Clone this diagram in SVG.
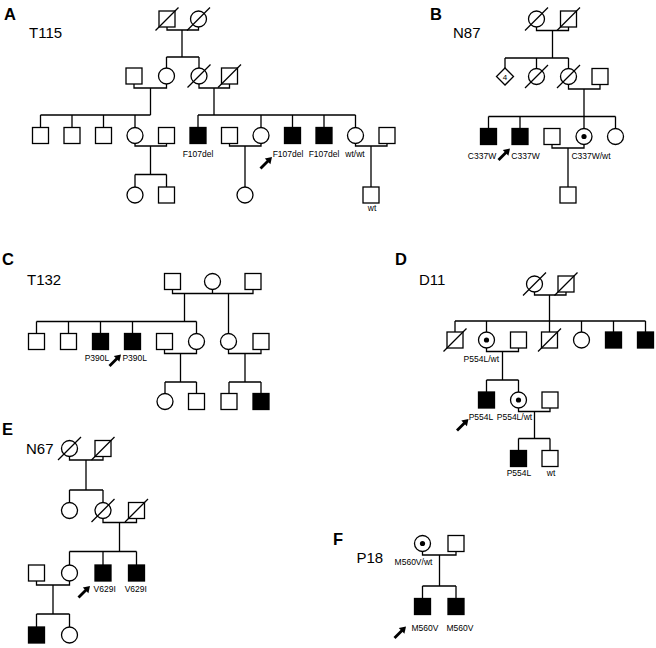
<svg xmlns="http://www.w3.org/2000/svg" width="656" height="648" viewBox="0 0 656 648">
<style>
.s{fill:#fff;stroke:#000;stroke-width:1.3}
.f{fill:#000}
.ln{fill:none;stroke:#000;stroke-width:1.3}
.dot{fill:#000}
text{font-family:"Liberation Sans",Arial,sans-serif;fill:#000}
.lbl{font-size:8.5px;text-anchor:middle}
.ttl{font-size:15px}
.pn{font-size:16.5px;font-weight:bold}
</style>
<defs>
<g id="arr"><line x1="-3" y1="3" x2="-11.5" y2="11.5" stroke="#000" stroke-width="2.8"/><polygon points="0,0 -1.6,7.2 -7.2,1.6" fill="#000"/></g>
</defs>
<rect width="656" height="648" fill="#fff"/>

<g id="titles">
<text class="pn" x="4" y="19.5">A</text><text class="ttl" x="29" y="38">T115</text>
<text class="pn" x="430" y="19.5">B</text><text class="ttl" x="453" y="38">N87</text>
<text class="pn" x="2" y="265">C</text><text class="ttl" x="27" y="285">T132</text>
<text class="pn" x="395" y="265">D</text><text class="ttl" x="419" y="285">D11</text>
<text class="pn" x="2" y="435">E</text><text class="ttl" x="26" y="454">N67</text>
<text class="pn" x="333" y="545">F</text><text class="ttl" x="356.5" y="563">P18</text>
</g>

<g id="connectors" class="ln">
<!-- A -->
<path d="M167,27V30H198.5V27M182,30V57M166.5,57H199M166.5,57V68M199,57V68"/>
<path d="M134,84V88H166.5V84M150.5,88V115M40.5,115H150.5M40.5,115V127.5M72,115V127.5M103.5,115V127.5M135,115V127.5"/>
<path d="M199,84V88H229.5V84M214,88V115M198,115H355.5M198,115V127.5M261,115V127.5M292.5,115V127.5M324,115V127.5M355.5,115V127.5"/>
<path d="M135,143.5V146H166.5V143.5M150.5,146V174.5M135,174.5H166.5M135,174.5V187M166.5,174.5V187"/>
<path d="M229.5,143.5V146H261V143.5M245,146V187"/>
<path d="M355.5,143.5V146H387V143.5M371,146V187"/>
<!-- B -->
<path d="M536.5,27V30.5H568.5V27M552.5,30.5V58M505,58H568.5M505,58V68M536.5,58V68.5M568.5,58V68.5"/>
<path d="M568.5,84.5V89H600V84.5M584,89V128.5M488.5,116.5H615.5M488.5,116.5V128.5M520,116.5V128.5M615.5,116.5V128.5"/>
<path d="M552,144.5V148H584V144.5M568,148V187"/>
<!-- C -->
<path d="M172.5,289.5V293.5H253V289.5M212.5,289.5V293.5M184.5,293.5V321.5M228.5,293.5V333.5"/>
<path d="M36.5,321.5H196.5M36.5,321.5V333.5M68.5,321.5V333.5M100.5,321.5V333.5M132.5,321.5V333.5M196.5,321.5V333.5"/>
<path d="M164.5,349.5V353.5H196.5V349.5M180.5,353.5V382M165,382H196.5M165,382V393.5M196.5,382V393.5"/>
<path d="M228.5,349.5V353.5H261V349.5M245,353.5V382M229,382H261M229,382V393.5M261,382V393.5"/>
<!-- D -->
<path d="M534.5,292V295H566V292M549.5,295V332M455,321H645.5M455,321V332M486.5,321V332M581.5,321V332M613.5,321V332M645.5,321V332"/>
<path d="M486.5,348V351.5H518.5V348M502.5,351.5V380M486.5,380H518.5M486.5,380V392M518.5,380V392"/>
<path d="M518.5,408V411.5H550V408M534.5,411.5V438.5M518.5,438.5H550M518.5,438.5V450.5M550,438.5V450.5"/>
<!-- E -->
<path d="M69.5,456.5V460H103V456.5M86,460V490M69.5,490H103M69.5,490V502.5M103,490V502.5"/>
<path d="M103,518.5V522.5H136.5V518.5M119.5,522.5V551.5M69.5,551.5H136.5M69.5,551.5V565M103,551.5V565M136.5,551.5V565"/>
<path d="M36.5,581V585H69.5V581M53,585V614M36.5,614H69.5M36.5,614V627M69.5,614V627"/>
<!-- F -->
<path d="M422.5,551.5V555H456V551.5M439.5,555V586M422.5,586H456M422.5,586V598.5M456,586V598.5"/>
</g>

<!-- Panel A nodes -->
<g id="A1"><rect class="s" x="159" y="11" width="16" height="16"/><line class="ln" x1="155.5" y1="30.5" x2="178.5" y2="7.5"/></g>
<g id="A2"><circle class="s" cx="198.5" cy="19" r="8"/><line class="ln" x1="187" y1="30.5" x2="210" y2="7.5"/></g>
<g id="A3"><rect class="s" x="126" y="68" width="16" height="16"/></g>
<g id="A4"><circle class="s" cx="166.5" cy="76" r="8"/></g>
<g id="A5"><circle class="s" cx="199" cy="76" r="8"/><line class="ln" x1="187.5" y1="87.5" x2="210.5" y2="64.5"/></g>
<g id="A6"><rect class="s" x="221.5" y="68" width="16" height="16"/><line class="ln" x1="218" y1="87.5" x2="241" y2="64.5"/></g>
<g id="A7"><rect class="s" x="32.5" y="127.5" width="16" height="16"/></g>
<g id="A8"><rect class="s" x="64" y="127.5" width="16" height="16"/></g>
<g id="A9"><rect class="s" x="95.5" y="127.5" width="16" height="16"/></g>
<g id="A10"><circle class="s" cx="135" cy="135.5" r="8"/></g>
<g id="A11"><rect class="s" x="158.5" y="127.5" width="16" height="16"/></g>
<g id="A12"><rect class="s f" x="190" y="127.5" width="16" height="16"/><text class="lbl" x="198" y="157">F107del</text></g>
<g id="A13"><rect class="s" x="221.5" y="127.5" width="16" height="16"/></g>
<g id="A14"><circle class="s" cx="261" cy="135.5" r="8"/></g>
<g id="A15"><rect class="s f" x="284.5" y="127.5" width="16" height="16"/><text class="lbl" x="288" y="157">F107del</text><use href="#arr" transform="translate(272,157)"/></g>
<g id="A16"><rect class="s f" x="316" y="127.5" width="16" height="16"/><text class="lbl" x="324" y="157">F107del</text></g>
<g id="A17"><circle class="s" cx="355.5" cy="135.5" r="8"/><text class="lbl" x="355" y="157">wt/wt</text></g>
<g id="A18"><rect class="s" x="379" y="127.5" width="16" height="16"/></g>
<g id="A19"><circle class="s" cx="135" cy="195" r="8"/></g>
<g id="A20"><rect class="s" x="158.5" y="187" width="16" height="16"/></g>
<g id="A21"><circle class="s" cx="245" cy="195" r="8"/></g>
<g id="A22"><rect class="s" x="363" y="187" width="16" height="16"/><text class="lbl" x="372" y="211">wt</text></g>

<!-- Panel B nodes -->
<g id="B1"><circle class="s" cx="536.5" cy="19" r="8"/><line class="ln" x1="525" y1="30.5" x2="548" y2="7.5"/></g>
<g id="B2"><rect class="s" x="560.5" y="11" width="16" height="16"/><line class="ln" x1="557" y1="30.5" x2="580" y2="7.5"/></g>
<g id="B3"><polygon class="s" points="505,68 513.5,76.5 505,85 496.5,76.5"/><text x="505" y="79.5" style="font-size:8px;text-anchor:middle">4</text></g>
<g id="B4"><circle class="s" cx="536.5" cy="76.5" r="8"/><line class="ln" x1="525" y1="88" x2="548" y2="65"/></g>
<g id="B5"><circle class="s" cx="568.5" cy="76.5" r="8"/><line class="ln" x1="557" y1="88" x2="580" y2="65"/></g>
<g id="B6"><rect class="s" x="592" y="68.5" width="16" height="16"/></g>
<g id="B7"><rect class="s f" x="480.5" y="128.5" width="16" height="16"/><text class="lbl" x="482" y="159">C337W</text></g>
<g id="B8"><rect class="s f" x="512" y="128.5" width="16" height="16"/><text class="lbl" x="525.5" y="159">C337W</text><use href="#arr" transform="translate(510,148.5)"/></g>
<g id="B9"><rect class="s" x="544" y="128.5" width="16" height="16"/></g>
<g id="B10"><circle class="s" cx="584" cy="136.5" r="8"/><circle class="dot" cx="584" cy="136.5" r="2.6"/><text class="lbl" x="591" y="159">C337W/wt</text></g>
<g id="B11"><circle class="s" cx="615.5" cy="136.5" r="8"/></g>
<g id="B12"><rect class="s" x="560" y="187" width="16" height="16"/></g>

<!-- Panel C nodes -->
<g id="C1"><rect class="s" x="164.5" y="273.5" width="16" height="16"/></g>
<g id="C2"><circle class="s" cx="212.5" cy="281.5" r="8"/></g>
<g id="C3"><rect class="s" x="245" y="273.5" width="16" height="16"/></g>
<g id="C4"><rect class="s" x="28.5" y="333.5" width="16" height="16"/></g>
<g id="C5"><rect class="s" x="60.5" y="333.5" width="16" height="16"/></g>
<g id="C6"><rect class="s f" x="92.5" y="333.5" width="16" height="16"/><text class="lbl" x="97" y="361">P390L</text></g>
<g id="C7"><rect class="s f" x="124.5" y="333.5" width="16" height="16"/><text class="lbl" x="134.7" y="361">P390L</text><use href="#arr" transform="translate(121,354.5)"/></g>
<g id="C8"><rect class="s" x="156.5" y="333.5" width="16" height="16"/></g>
<g id="C9"><circle class="s" cx="196.5" cy="341.5" r="8"/></g>
<g id="C10"><circle class="s" cx="228.5" cy="341.5" r="8"/></g>
<g id="C11"><rect class="s" x="253" y="333.5" width="16" height="16"/></g>
<g id="C12"><circle class="s" cx="165" cy="401.5" r="8"/></g>
<g id="C13"><rect class="s" x="188.5" y="393.5" width="16" height="16"/></g>
<g id="C14"><rect class="s" x="221" y="393.5" width="16" height="16"/></g>
<g id="C15"><rect class="s f" x="253" y="393.5" width="16" height="16"/></g>

<!-- Panel D nodes -->
<g id="D1"><circle class="s" cx="534.5" cy="284" r="8"/><line class="ln" x1="523" y1="295.5" x2="546" y2="272.5"/></g>
<g id="D2"><rect class="s" x="558" y="276" width="16" height="16"/><line class="ln" x1="554.5" y1="295.5" x2="577.5" y2="272.5"/></g>
<g id="D3"><rect class="s" x="447" y="332" width="16" height="16"/><line class="ln" x1="443.5" y1="351.5" x2="466.5" y2="328.5"/></g>
<g id="D4"><circle class="s" cx="486.5" cy="340" r="8"/><circle class="dot" cx="486.5" cy="340" r="2.6"/><text class="lbl" x="481.3" y="361.7">P554L/wt</text></g>
<g id="D5"><rect class="s" x="510.5" y="332" width="16" height="16"/></g>
<g id="D6"><rect class="s" x="541.5" y="332" width="16" height="16"/><line class="ln" x1="538" y1="351.5" x2="561" y2="328.5"/></g>
<g id="D7"><circle class="s" cx="581.5" cy="340" r="8"/></g>
<g id="D8"><rect class="s f" x="605.5" y="332" width="16" height="16"/></g>
<g id="D9"><rect class="s f" x="637.5" y="332" width="16" height="16"/></g>
<g id="D10"><rect class="s f" x="478.5" y="392" width="16" height="16"/><text class="lbl" x="481" y="420">P554L</text><use href="#arr" transform="translate(468.5,419)"/></g>
<g id="D11"><circle class="s" cx="518.5" cy="400" r="8"/><circle class="dot" cx="518.5" cy="400" r="2.6"/><text class="lbl" x="514.5" y="420">P554L/wt</text></g>
<g id="D12"><rect class="s" x="542" y="392" width="16" height="16"/></g>
<g id="D13"><rect class="s f" x="510.5" y="450.5" width="16" height="16"/><text class="lbl" x="519" y="476">P554L</text></g>
<g id="D14"><rect class="s" x="542" y="450.5" width="16" height="16"/><text class="lbl" x="551" y="476">wt</text></g>

<!-- Panel E nodes -->
<g id="E1"><circle class="s" cx="69.5" cy="448.5" r="8"/><line class="ln" x1="58" y1="460" x2="81" y2="437"/></g>
<g id="E2"><rect class="s" x="95" y="440.5" width="16" height="16"/><line class="ln" x1="91.5" y1="460" x2="114.5" y2="437"/></g>
<g id="E3"><circle class="s" cx="69.5" cy="510.5" r="8"/></g>
<g id="E4"><circle class="s" cx="103" cy="510.5" r="8"/><line class="ln" x1="91.5" y1="522" x2="114.5" y2="499"/></g>
<g id="E5"><rect class="s" x="128.5" y="502.5" width="16" height="16"/><line class="ln" x1="125" y1="522" x2="148" y2="499"/></g>
<g id="E6"><rect class="s" x="28.5" y="565" width="16" height="16"/></g>
<g id="E7"><circle class="s" cx="69.5" cy="573" r="8"/></g>
<g id="E8"><rect class="s f" x="95" y="565" width="16" height="16"/><text class="lbl" x="104.7" y="591.7">V629I</text><use href="#arr" transform="translate(90,586)"/></g>
<g id="E9"><rect class="s f" x="128.5" y="565" width="16" height="16"/><text class="lbl" x="135.8" y="591.7">V629I</text></g>
<g id="E10"><rect class="s f" x="28.5" y="627" width="16" height="16"/></g>
<g id="E11"><circle class="s" cx="69.5" cy="635" r="8"/></g>

<!-- Panel F nodes -->
<g id="F1"><circle class="s" cx="422.5" cy="543.5" r="8"/><circle class="dot" cx="422.5" cy="543.5" r="2.6"/><text class="lbl" x="413.5" y="565">M560V/wt</text></g>
<g id="F2"><rect class="s" x="448" y="535.5" width="16" height="16"/></g>
<g id="F3"><rect class="s f" x="414.5" y="598.5" width="16" height="16"/><text class="lbl" x="425" y="631">M560V</text><use href="#arr" transform="translate(406,626.5)"/></g>
<g id="F4"><rect class="s f" x="448" y="598.5" width="16" height="16"/><text class="lbl" x="460" y="631">M560V</text></g>
</svg>
